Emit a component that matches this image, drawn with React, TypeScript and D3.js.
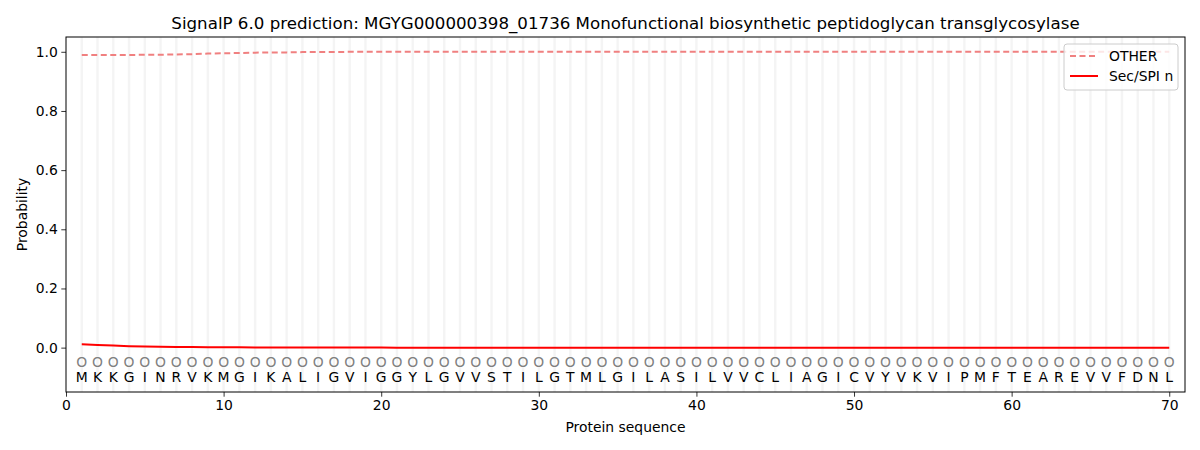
import { useEffect, useRef } from 'react';
import * as d3 from 'd3';

const TITLE =
  'SignalP 6.0 prediction: MGYG000000398_01736 Monofunctional biosynthetic peptidoglycan transglycosylase';

const SEQUENCE = 'MKKGINRVKMGIKALIGVIGGYLGVVSTILGTMLGILASILVVCLIAGICVYVKVIPMFTEAREVVFDNL'.split('');

const OTHER = [
  0.989, 0.989, 0.989, 0.989, 0.99, 0.99, 0.991, 0.992, 0.994, 0.995,
  0.996, 0.997, 0.998, 0.998, 0.999, 0.999, 0.999, 1.0, 1.0, 1.0,
  1.0, 1.0, 1.0, 1.0, 1.0, 1.0, 1.0, 1.0, 1.0, 1.0,
  1.0, 1.0, 1.0, 1.0, 1.0, 1.0, 1.0, 1.0, 1.0, 1.0,
  1.0, 1.0, 1.0, 1.0, 1.0, 1.0, 1.0, 1.0, 1.0, 1.0,
  1.0, 1.0, 1.0, 1.0, 1.0, 1.0, 1.0, 1.0, 1.0, 1.0,
  1.0, 1.0, 1.0, 1.0, 1.0, 1.0, 1.0, 1.0, 1.0, 1.0,
];

const SEC_SPI_N = [
  0.011, 0.009, 0.007, 0.005, 0.004, 0.003, 0.0025, 0.002, 0.0015, 0.001,
  0.001, 0.0008, 0.0006, 0.0005, 0.0004, 0.0003, 0.0002, 0.0002, 0.0001, 0.0001,
  0, 0, 0, 0, 0, 0, 0, 0, 0, 0,
  0, 0, 0, 0, 0, 0, 0, 0, 0, 0,
  0, 0, 0, 0, 0, 0, 0, 0, 0, 0,
  0, 0, 0, 0, 0, 0, 0, 0, 0, 0,
  0, 0, 0, 0, 0, 0, 0, 0, 0, 0,
];

const X_TICKS = [0, 10, 20, 30, 40, 50, 60, 70];
const Y_TICKS = [0, 0.2, 0.4, 0.6, 0.8, 1.0];

const SERIES = [
  { name: 'OTHER', values: OTHER, color: '#f08080', dash: '6,3.5' },
  { name: 'Sec/SPI n', values: SEC_SPI_N, color: '#ff0000', dash: '' },
];

const WIDTH = 1200;
const HEIGHT = 450;
const FONT = 'DejaVu Sans, sans-serif';
const SMALL = '13.9px';

export default function App() {
  const svgRef = useRef<SVGSVGElement>(null);

  useEffect(() => {
    if (!svgRef.current) return;
    const svg = d3.select(svgRef.current);
    svg.selectAll('*').remove();

    const margin = { top: 37, right: 15, bottom: 58, left: 66 };
    const innerWidth = WIDTH - margin.left - margin.right;
    const innerHeight = HEIGHT - margin.top - margin.bottom;

    const x = d3.scaleLinear().domain([0, 71]).range([0, innerWidth]);
    const y = d3.scaleLinear().domain([-0.15, 1.05]).range([innerHeight, 0]);

    const positions = SEQUENCE.map((_, i) => i + 1);

    svg
      .append('rect')
      .attr('width', WIDTH)
      .attr('height', HEIGHT)
      .attr('fill', '#fff');

    const g = svg
      .append('g')
      .attr('transform', `translate(${margin.left},${margin.top})`);

    // vertical guides at each residue
    g.selectAll('.guide')
      .data(positions)
      .join('line')
      .attr('x1', (d) => x(d))
      .attr('x2', (d) => x(d))
      .attr('y1', 0)
      .attr('y2', innerHeight)
      .attr('stroke', '#000')
      .attr('stroke-opacity', 0.045)
      .attr('stroke-width', 2.5);

    // residue markers and letters
    g.selectAll('.marker')
      .data(positions)
      .join('text')
      .attr('x', (d) => x(d))
      .attr('y', y(-0.05))
      .attr('dy', '0.35em')
      .attr('text-anchor', 'middle')
      .attr('font-family', FONT)
      .attr('font-size', SMALL)
      .attr('fill', '#808080')
      .text('O');

    g.selectAll('.residue')
      .data(SEQUENCE)
      .join('text')
      .attr('x', (_, i) => x(i + 1))
      .attr('y', y(-0.1))
      .attr('dy', '0.35em')
      .attr('text-anchor', 'middle')
      .attr('font-family', FONT)
      .attr('font-size', SMALL)
      .attr('fill', '#000')
      .text((d) => d);

    // lines
    const line = d3
      .line<number>()
      .x((_, i) => x(i + 1))
      .y((d) => y(d));

    SERIES.forEach((s) => {
      g.append('path')
        .datum(s.values)
        .attr('d', line)
        .attr('fill', 'none')
        .attr('stroke', s.color)
        .attr('stroke-width', 2)
        .attr('stroke-dasharray', s.dash || null);
    });

    // axes
    const xAxis = g
      .append('g')
      .attr('transform', `translate(0,${innerHeight})`)
      .call(d3.axisBottom(x).tickValues(X_TICKS).tickSize(4.7).tickPadding(3.5));
    const yAxis = g
      .append('g')
      .call(
        d3
          .axisLeft(y)
          .tickValues(Y_TICKS)
          .tickFormat(d3.format('.1f'))
          .tickSize(4.7)
          .tickPadding(3.5)
      );
    [xAxis, yAxis].forEach((a) => {
      a.select('.domain').remove();
      a.selectAll('text')
        .attr('font-family', FONT)
        .attr('font-size', SMALL)
        .attr('fill', '#000');
      a.selectAll('line').attr('stroke', '#000').attr('stroke-width', 0.8);
    });

    g.append('rect')
      .attr('width', innerWidth)
      .attr('height', innerHeight)
      .attr('fill', 'none')
      .attr('stroke', '#000')
      .attr('stroke-width', 1);

    // labels
    svg
      .append('text')
      .attr('x', margin.left + innerWidth / 2)
      .attr('y', 29)
      .attr('text-anchor', 'middle')
      .attr('font-family', FONT)
      .attr('font-size', '16.67px')
      .text(TITLE);

    svg
      .append('text')
      .attr('x', margin.left + innerWidth / 2)
      .attr('y', 432)
      .attr('text-anchor', 'middle')
      .attr('font-family', FONT)
      .attr('font-size', SMALL)
      .text('Protein sequence');

    svg
      .append('text')
      .attr('transform', `translate(27,${margin.top + innerHeight / 2}) rotate(-90)`)
      .attr('text-anchor', 'middle')
      .attr('font-family', FONT)
      .attr('font-size', SMALL)
      .text('Probability');

    // legend
    const legend = svg.append('g').attr('transform', 'translate(1064,44)');
    legend
      .append('rect')
      .attr('width', 114)
      .attr('height', 46)
      .attr('rx', 3)
      .attr('fill', '#fff')
      .attr('fill-opacity', 0.8)
      .attr('stroke', '#ccc');
    SERIES.forEach((s, i) => {
      const row = legend.append('g').attr('transform', `translate(0,${12 + i * 20})`);
      row
        .append('line')
        .attr('x1', 6)
        .attr('x2', 34)
        .attr('stroke', s.color)
        .attr('stroke-width', 2)
        .attr('stroke-dasharray', s.dash || null);
      row
        .append('text')
        .attr('x', 45)
        .attr('dy', '0.35em')
        .attr('font-family', FONT)
        .attr('font-size', SMALL)
        .text(s.name);
    });
  }, []);

  return (
    <svg
      ref={svgRef}
      width={WIDTH}
      height={HEIGHT}
      style={{ position: 'absolute', left: 0, top: 0 }}
    />
  );
}
